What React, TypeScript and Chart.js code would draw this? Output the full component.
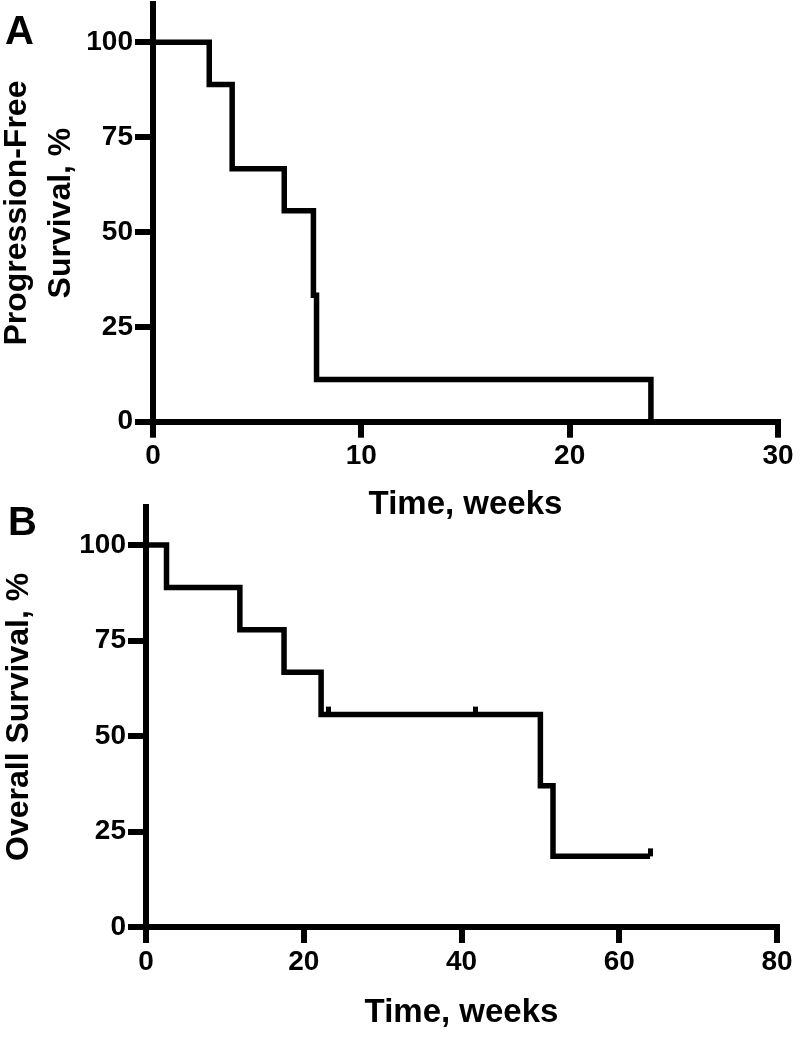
import React, { useEffect, useRef } from "react";
import { Chart, registerables } from "chart.js";

Chart.register(...registerables);

// Progression-free survival (panel A)
const pfsWeeks = [0, 2.7, 3.8, 6.3, 7.7, 7.85, 23.9];
const pfsPercent = [100, 88.9, 66.7, 55.6, 33.3, 11.1, 0];
// Overall survival (panel B)
const osWeeks = [0, 2.6, 11.9, 17.5, 22.2, 50.0, 51.6, 63.9];
const osPercent = [100, 88.9, 77.8, 66.7, 55.6, 37.0, 18.5, 18.5];
const osCensoredWeeks = [23.2, 41.8, 63.9];
const osCensoredPercent = [55.6, 55.6, 18.5];
// Axis ticks
const yTicks = [0, 25, 50, 75, 100];
const pfsXTicks = [0, 10, 20, 30];
const osXTicks = [0, 20, 40, 60, 80];

const FONT = "'Liberation Sans', Arial, Helvetica, sans-serif";

type PanelCfg = {
  canvasTop: number;
  canvasH: number;
  padTop: number;
  padRight: number;
  yWidth: number;
  xHeight: number;
  xMax: number;
  xTicks: number[];
  yTitle: string | string[];
  yTitlePad: number;
  yTitleLH: number;
  xTitlePad: number;
  steps: { x: number; y: number }[];
  censors: { x: number; y: number }[];
};

function makeCensorMark(): HTMLCanvasElement {
  const c = document.createElement("canvas");
  c.width = 5;
  c.height = 26;
  const g = c.getContext("2d");
  if (g) {
    g.fillStyle = "#000";
    g.fillRect(0, 5, 5, 8);
  }
  return c;
}

function Panel({ cfg }: { cfg: PanelCfg }) {
  const ref = useRef<HTMLCanvasElement | null>(null);
  useEffect(() => {
    if (!ref.current) return;
    const mark = makeCensorMark();
    const tickFont = { family: FONT, size: 28, weight: "bold" as const };
    const chart = new Chart(ref.current, {
      type: "line",
      data: {
        datasets: [
          {
            data: cfg.steps,
            stepped: "before",
            borderColor: "#000",
            borderWidth: 5.5,
            borderJoinStyle: "miter",
            borderCapStyle: "butt",
            pointRadius: 0,
            fill: false,
            clip: false,
          } as any,
          {
            data: cfg.censors,
            showLine: false,
            pointStyle: mark,
            pointRadius: 5,
            borderColor: "#000",
            backgroundColor: "#000",
            clip: false,
          } as any,
        ],
      },
      options: {
        responsive: false,
        animation: false,
        events: [],
        layout: { padding: { top: cfg.padTop, right: cfg.padRight, left: 0, bottom: 0 } },
        plugins: { legend: { display: false }, tooltip: { enabled: false } },
        scales: {
          x: {
            type: "linear",
            min: 0,
            max: cfg.xMax,
            afterBuildTicks: (s: any) => {
              s.ticks = cfg.xTicks.map((v) => ({ value: v }));
            },
            afterFit: (s: any) => {
              s.height = cfg.xHeight;
              s.paddingLeft = 0;
              s.paddingRight = 0;
            },
            grid: {
              display: true,
              drawOnChartArea: false,
              drawTicks: true,
              tickLength: 16,
              lineWidth: 6,
              color: "#000",
            },
            border: { display: true, width: 6, color: "#000" },
            ticks: { font: tickFont, color: "#000", padding: 2, maxRotation: 0, autoSkip: false },
            title: {
              display: true,
              text: "Time, weeks",
              color: "#000",
              font: { family: FONT, size: 33, weight: "bold", lineHeight: 1.2 },
              padding: { top: 0, bottom: cfg.xTitlePad },
            },
          },
          y: {
            type: "linear",
            min: 0,
            max: 110,
            afterBuildTicks: (s: any) => {
              s.ticks = yTicks.map((v) => ({ value: v }));
            },
            afterFit: (s: any) => {
              s.width = cfg.yWidth;
              s.paddingTop = 0;
              s.paddingBottom = 0;
            },
            grid: {
              display: true,
              drawOnChartArea: false,
              drawTicks: true,
              tickLength: 18,
              lineWidth: 6,
              color: "#000",
            },
            border: { display: true, width: 6, color: "#000" },
            ticks: { font: tickFont, color: "#000", padding: 2, autoSkip: false },
            title: {
              display: true,
              text: cfg.yTitle,
              color: "#000",
              font: { family: FONT, size: 32, weight: "bold", lineHeight: cfg.yTitleLH },
              padding: { top: cfg.yTitlePad, bottom: 0 },
            },
          },
        },
      } as any,
    });
    return () => chart.destroy();
  }, [cfg]);
  return (
    <canvas
      ref={ref}
      width={800}
      height={cfg.canvasH}
      style={{ position: "absolute", left: 0, top: cfg.canvasTop, width: 800, height: cfg.canvasH }}
    />
  );
}

const panelA: PanelCfg = {
  canvasTop: 0,
  canvasH: 530,
  padTop: 4.4,
  padRight: 22,
  yWidth: 153,
  xHeight: 108.3,
  xMax: 30,
  xTicks: pfsXTicks,
  yTitle: ["Progression-Free", "Survival, %"],
  yTitlePad: -4,
  yTitleLH: 1.35,
  xTitlePad: 5,
  steps: pfsWeeks.map((x, i) => ({ x, y: pfsPercent[i] })),
  censors: [],
};

const panelB: PanelCfg = {
  canvasTop: 480,
  canvasH: 561,
  padTop: 26.8,
  padRight: 23,
  yWidth: 146,
  xHeight: 114,
  xMax: 80,
  xTicks: osXTicks,
  yTitle: "Overall Survival, %",
  yTitlePad: 0,
  yTitleLH: 1.2,
  xTitlePad: 8,
  steps: osWeeks.map((x, i) => ({ x, y: osPercent[i] })),
  censors: osCensoredWeeks.map((x, i) => ({ x, y: osCensoredPercent[i] })),
};

const labelStyle: React.CSSProperties = {
  position: "absolute",
  fontFamily: FONT,
  fontWeight: "bold",
  fontSize: 40,
  lineHeight: "40px",
  color: "#000",
  margin: 0,
};

export default function App() {
  return (
    <div
      style={{
        position: "absolute",
        left: 0,
        top: 0,
        width: 800,
        height: 1041,
        overflow: "hidden",
        background: "#fff",
      }}
    >
      <Panel cfg={panelA} />
      <Panel cfg={panelB} />
      <div style={{ ...labelStyle, left: 5, top: 10 }}>A</div>
      <div style={{ ...labelStyle, left: 8, top: 501 }}>B</div>
    </div>
  );
}
